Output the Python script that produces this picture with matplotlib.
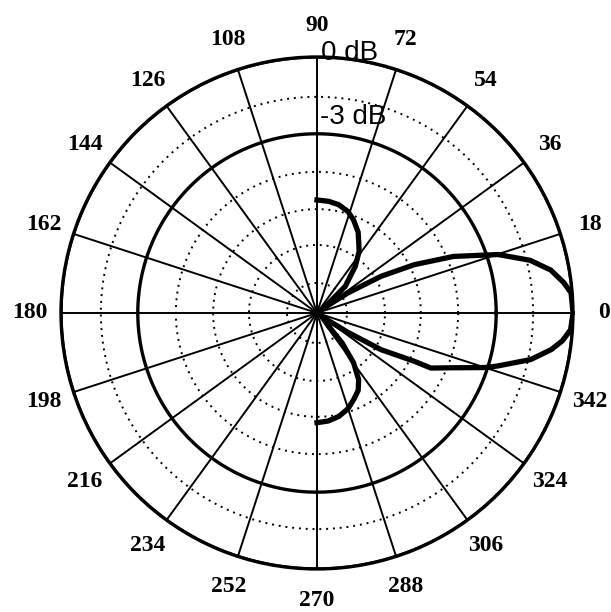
import matplotlib
matplotlib.use("Agg")
import matplotlib.pyplot as plt
import numpy as np

# radiation pattern, angle in degrees, radius in ring units (7 = 0 dB, 4.9 = -3 dB)
pattern_deg = [90, 84, 78.7, 73, 68.5, 63, 59.2, 55.6, 50.6, 43.3, 38.5, 36, 33,
               29.8, 26.4, 22.5, 17.9, 13.9, 10.4, 7, 4.5, 0, -3.8, -6.5, -8.9,
               -12.3, -16.4, -18, -22, -25.8, -26.4, -29.8, -32, -36, -40,
               -48.7, -50, -53.7, -58, -62, -67, -72, -78, -84, -90]
pattern_r = [3.09, 3.07, 3.02, 2.9, 2.73, 2.48, 2.23, 2.04, 1.65, 1.06, 0.3, 0.2, 1.0,
             2.02, 2.97, 4.04, 5.2, 6.0, 6.5, 6.8, 6.97, 7.0, 6.95, 6.75, 6.48,
             5.98, 5.14, 4.83, 4.0, 3.46, 2.97, 2.02, 1.0, 0.2, 0.3,
             0.48, 1.07, 1.69, 2.15, 2.4, 2.57, 2.75, 2.89, 2.97, 3.0]

spoke_deg = list(range(0, 360, 18))
spoke_labels = [str(a) for a in spoke_deg]
dotted_rings = [0.82, 1.86, 2.84, 3.86, 5.91]
solid_rings = [4.9, 7]
ring_names = ["0 dB", "-3 dB"]
name_r = [7.12, 5.36]

fig = plt.figure(figsize=(6.11, 6.12), dpi=100)
ax = fig.add_axes([0.0998, 0.0703, 0.838, 0.8366], projection="polar")
ax.set_ylim(0, 7)

ax.set_thetagrids(spoke_deg, spoke_labels, fontsize=17,
                  family="Liberation Serif", fontweight="bold")
ax.tick_params(axis="x", pad=12)
ax.xaxis.grid(True, color="black", linewidth=1.4, linestyle="-")
ax.yaxis.grid(False)
ax.set_yticklabels([])
ax.spines["polar"].set_linewidth(2.4)

full = np.linspace(0, 2 * np.pi, 400)
for r in dotted_rings:
    ax.plot(full, np.full_like(full, r), color="black", linewidth=1.4,
            linestyle=(0, (1, 2.5)))
for r in solid_rings:
    ax.plot(full, np.full_like(full, r), color="black", linewidth=2.4)

for name, r in zip(ring_names, name_r):
    ax.text(np.deg2rad(89.2), r, name, fontsize=20,
            family="Liberation Sans", ha="left", va="center")

ax.plot(np.deg2rad(pattern_deg), pattern_r, color="black", linewidth=3.8,
        solid_joinstyle="round")

fig.savefig("out.png", dpi=100)
